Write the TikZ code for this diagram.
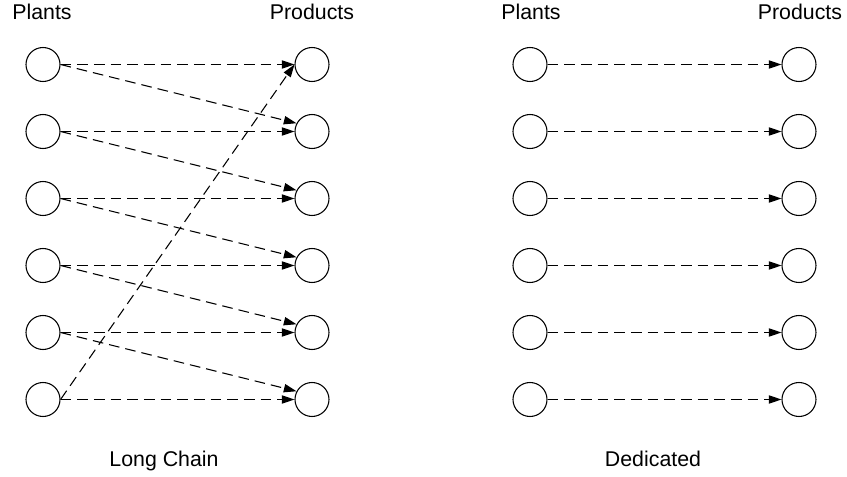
\documentclass[tikz,border=0pt]{standalone}
\usepackage{fontspec}
\setmainfont{Liberation Sans}
\usetikzlibrary{arrows.meta}
\begin{document}
\begin{tikzpicture}[x=0.75pt,y=-0.75pt,
  node1/.style={circle,draw,line width=0.8pt,minimum size=25.5pt,inner sep=0pt},
  link/.style={line width=0.8pt,dash pattern=on 8pt off 4.5pt,-{Triangle[length=9.5pt,width=6.2pt]}},
  lbl/.style={font=\fontsize{16}{19}\selectfont,anchor=base,inner sep=0pt}]
\useasboundingbox (0,0) rectangle (847,477);
\foreach \i in {1,...,6} {
  \pgfmathsetmacro\yy{64.5+67*(\i-1)}
  \node[node1] (a\i) at (43,\yy) {};
  \node[node1] (b\i) at (312,\yy) {};
  \node[node1] (c\i) at (530,\yy) {};
  \node[node1] (d\i) at (799,\yy) {};
}
\node[lbl] (t1) at (42,20) {Plants};
\node[lbl] (t2) at (312,20) {Products};
\node[lbl] (t3) at (531,20) {Plants};
\node[lbl] (t4) at (800,20) {Products};
\node[lbl] (t5) at (164,467) {Long Chain};
\node[lbl] (t6) at (653,467) {Dedicated};
\foreach \i in {1,...,6} {
  \draw[link] (a\i.east) -- (b\i.west);
  \draw[link] (c\i.east) -- (d\i.west);
}
\foreach \i/\j in {1/2,2/3,3/4,4/5,5/6} {
  \draw[link] (a\i.east) -- (b\j.152);
}
\draw[link] (a6.east) -- (b1.west);
\end{tikzpicture}
\end{document}
